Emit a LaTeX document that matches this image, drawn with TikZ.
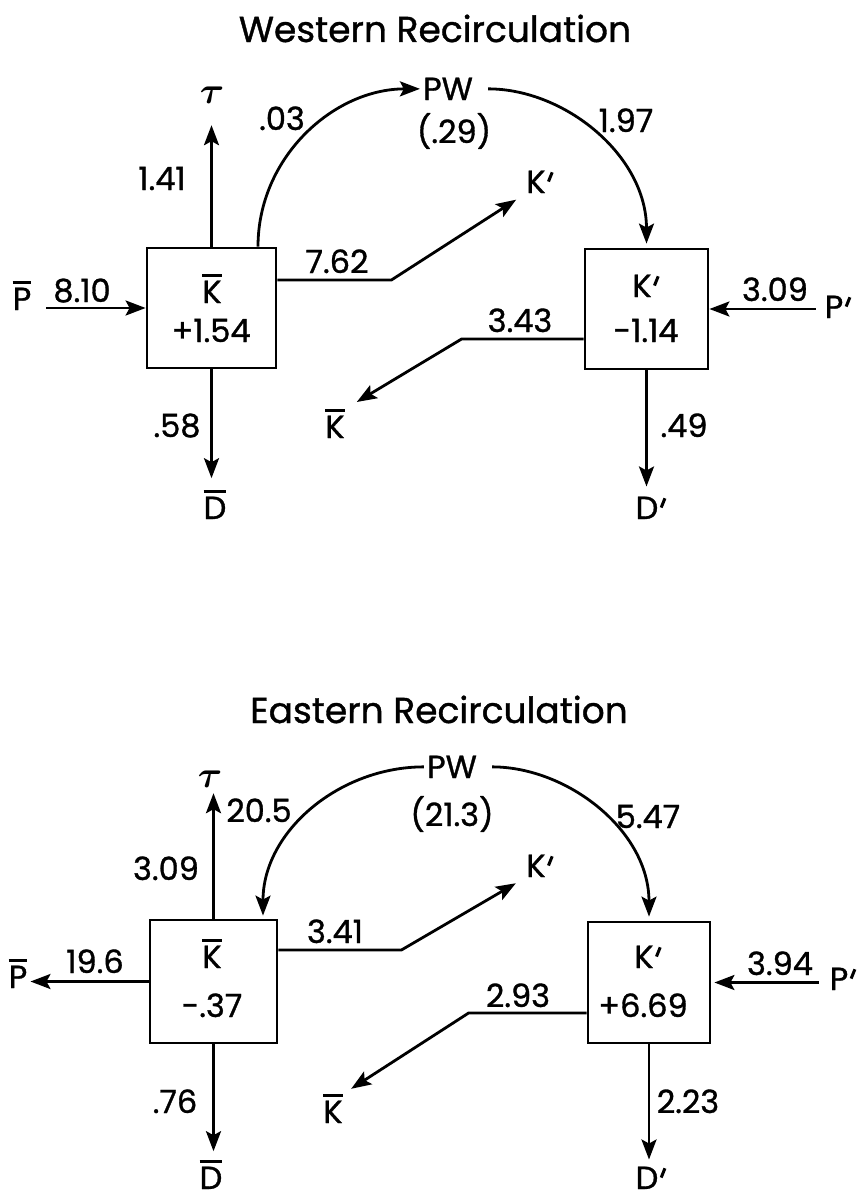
\documentclass[tikz,border=0pt]{standalone}
\usepackage{fontspec}
\setmainfont{Poppins}[FakeBold=1.0]
\usetikzlibrary{arrows.meta}

% letter with a bar over it
\newcommand\ovbar[1]{\setbox0\hbox{#1}\leavevmode\rlap{\raisebox{\dimexpr\ht0+3.5pt\relax}{\rule{\wd0}{2.8pt}}}\box0}
% slanted prime stroke
\newcommand\prm{\kern1.5pt\raisebox{12pt}{\rotatebox{-22}{\rule{3pt}{10pt}}}}
% tau drawn at label size
\newcommand\tausym{\scalebox{1.5}{$\boldsymbol{\tau}$}}
\usepackage{amsmath,amssymb}

\tikzset{
  flow/.style={line width=2.8pt, -{Stealth[length=20pt,width=15pt,inset=4pt]}},
  box/.style={draw, line width=2.8pt, inner sep=0pt},
  lbl/.style={inner sep=0pt, anchor=base, font=\fontsize{32}{38}\selectfont},
  ttl/.style={inner sep=0pt, anchor=base, font=\fontsize{36}{43}\selectfont},
}

\begin{document}
\begin{tikzpicture}[x=1pt,y=-1pt]
\useasboundingbox (0,0) rectangle (866,1199);

% ================= Western recirculation =================
\node[ttl] (wT) at (435,42) {Western Recirculation};

\node[box, minimum width=129pt, minimum height=120pt] (wK)  at (211.5,308) {};
\node[box, minimum width=123pt, minimum height=120pt] (wKp) at (646.5,309) {};
\node[lbl] (wKn)  at (212,303) {\ovbar{K}};
\node[lbl] (wKv)  at (211,342) {+1.54};
\node[lbl] (wKpn) at (646,297) {K\prm};
\node[lbl] (wKpv) at (646,342) {-1.14};

\node[lbl] (wPW)   at (448,100) {PW};
\node[lbl] (wPWv)  at (454,143) {(.29)};
\node[lbl] (wtau)  at (212,103) {\tausym};
\node[lbl] (wD)    at (215,519) {\ovbar{D}};
\node[lbl] (wDp)   at (651,519) {D\prm};
\node[lbl] (wP)    at (22,310)  {\ovbar{P}};
\node[lbl] (wPp)   at (838,318) {P\prm};
\node[lbl] (wKout) at (540,193) {K\prm};
\node[lbl] (wKbar) at (335,438) {\ovbar{K}};

\node[lbl] (wv1) at (162,190) {1.41};
\node[lbl] (wv2) at (282,130) {.03};
\node[lbl] (wv3) at (626,132) {1.97};
\node[lbl] (wv4) at (337,273) {7.62};
\node[lbl] (wv5) at (82,302)  {8.10};
\node[lbl] (wv6) at (775,301) {3.09};
\node[lbl] (wv7) at (520,332) {3.43};
\node[lbl] (wv8) at (177,437) {.58};
\node[lbl] (wv9) at (684,437) {.49};

\draw[flow, shorten >=22pt] (wK.north) -- (wK.north |- wtau.south);
\draw[flow, shorten >=12pt] (wK.south) -- (wK.south |- wD.north);
\draw[flow, shorten >=3pt] ([xshift=46.5pt]wK.north) to[out=90,in=180] (wPW.west);
\draw[flow, shorten <=15pt, shorten >=4pt] (wPW.east) to[out=0,in=90] (wKp.north);
\draw[flow, shorten >=12pt] ([yshift=28pt]wK.east) -- ++(114,0) -- (wKout.south west);
\draw[flow, shorten >=14pt] ([yshift=-30pt]wKp.west) -- ++(-122,0) -- (wKbar.north east);
\draw[flow, shorten <=15pt] (wP.east |- wK.west) -- (wK.west);
\draw[flow, shorten <=9pt] (wPp.west |- wKp.east) -- (wKp.east);
\draw[flow, shorten >=10pt] (wKp.south) -- (wKp.south |- wDp.north);

% ================= Eastern recirculation =================
\node[ttl] (eT) at (439,723) {Eastern Recirculation};

\node[box, minimum width=127pt, minimum height=123pt] (eK)  at (213.5,981.5) {};
\node[box, minimum width=122pt, minimum height=121pt] (eKp) at (649,982.5) {};
\node[lbl] (eKn)  at (212,968)  {\ovbar{K}};
\node[lbl] (eKv)  at (212,1017) {-.37};
\node[lbl] (eKpn) at (648,968)  {K\prm};
\node[lbl] (eKpv) at (643,1017) {+6.69};

\node[lbl] (ePW)   at (452,778)  {PW};
\node[lbl] (ePWv)  at (452,826)  {(21.3)};
\node[lbl] (etau)  at (210,787)  {\tausym};
\node[lbl] (eD)    at (211,1189) {\ovbar{D}};
\node[lbl] (eDp)   at (651,1189) {D\prm};
\node[lbl] (eP)    at (18,988)   {\ovbar{P}};
\node[lbl] (ePp)   at (843,990)  {P\prm};
\node[lbl] (eKout) at (540,877)  {K\prm};
\node[lbl] (eKbar) at (333,1123) {\ovbar{K}};

\node[lbl] (ev1) at (259,822)  {20.5};
\node[lbl] (ev2) at (166,880)  {3.09};
\node[lbl] (ev3) at (648,828)  {5.47};
\node[lbl] (ev4) at (335,943)  {3.41};
\node[lbl] (ev5) at (95,973)   {19.6};
\node[lbl] (ev6) at (780,975)  {3.94};
\node[lbl] (ev7) at (518,1007) {2.93};
\node[lbl] (ev8) at (175,1113) {.76};
\node[lbl] (ev9) at (688,1113) {2.23};

\draw[flow, shorten >=6pt] (eK.north) -- (eK.north |- etau.south);
\draw[flow, shorten >=9pt] (eK.south) -- (eK.south |- eD.north);
\draw[flow, shorten <=3pt, shorten >=3pt] (ePW.west) to[out=180,in=90] ([xshift=49.5pt]eK.north);
\draw[flow, shorten <=15pt, shorten >=4pt] (ePW.east) to[out=0,in=90] (eKp.north);
\draw[flow, shorten >=12pt] ([yshift=31.5pt]eK.east) -- ++(123,0) -- (eKout.south west);
\draw[flow, shorten >=3pt] (eK.west) -- (eK.west -| eP.east);
\draw[flow, shorten <=11pt, shorten >=3pt] (ePp.west |- eKp.east) -- (eKp.east);
\draw[flow, shorten >=10pt] ([yshift=-30.5pt]eKp.west) -- ++(-118,0) -- (eKbar.north east);
\draw[flow, shorten >=7pt] (eKp.south) -- (eKp.south |- eDp.north);
\end{tikzpicture}
\end{document}
